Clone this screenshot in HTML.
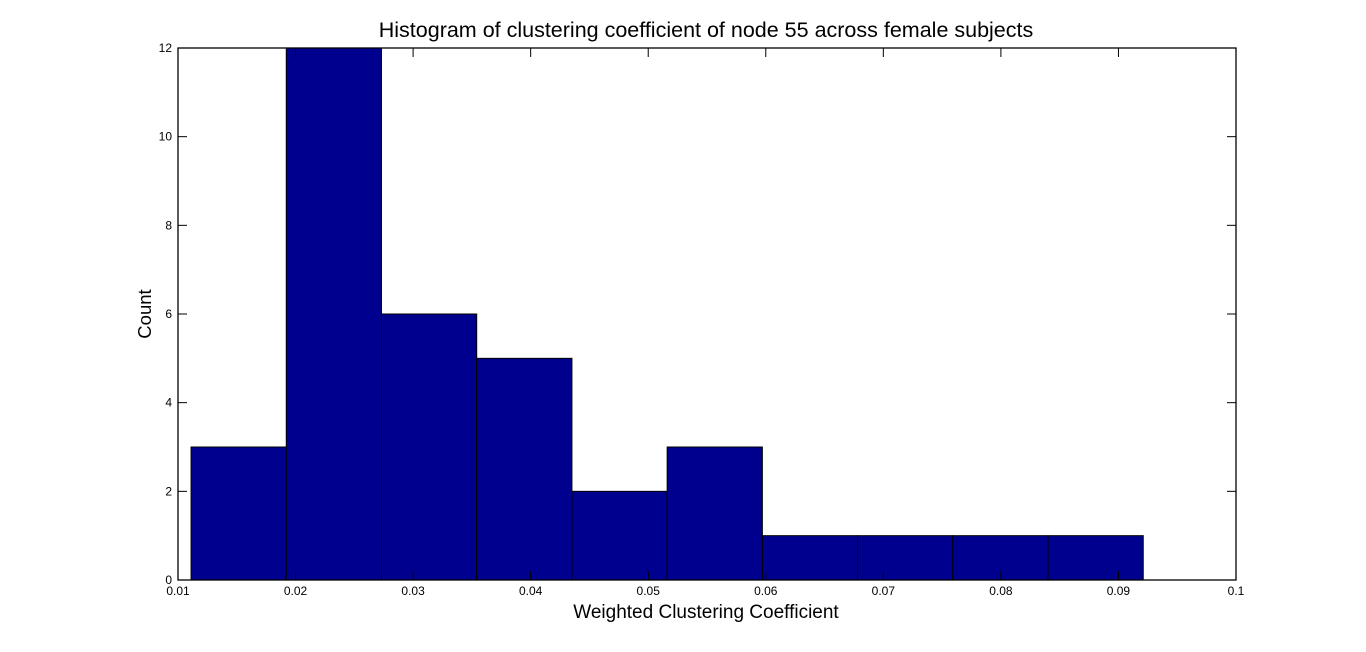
<!DOCTYPE html>
<html><head><meta charset="utf-8">
<style>
html,body{margin:0;padding:0;background:#fff;}
svg{display:block;font-family:"Liberation Sans",Arial,sans-serif;}
</style></head>
<body>
<svg id="chart" width="1366" height="652">
  <rect x="0" y="0" width="1366" height="652" fill="#fff"/>
  <text x="706" y="37" font-size="21.5" text-anchor="middle">Histogram of clustering coefficient of node 55 across female subjects</text>
  <text x="706" y="618" font-size="19" text-anchor="middle">Weighted Clustering Coefficient</text>
  <text x="0" y="0" font-size="18.5" text-anchor="middle" transform="translate(151,314) rotate(-90)">Count</text>
  <g id="bars"></g>
  <g id="axes"></g>
</svg>
<script>
const binEdges = [0.01111, 0.01921, 0.02731, 0.03541, 0.04351, 0.05161, 0.05971, 0.06781, 0.07591, 0.08401, 0.09211];
const counts = [3, 12, 6, 5, 2, 3, 1, 1, 1, 1];
const xTicks = [0.01, 0.02, 0.03, 0.04, 0.05, 0.06, 0.07, 0.08, 0.09, 0.1];
const xTickLabels = ["0.01","0.02","0.03","0.04","0.05","0.06","0.07","0.08","0.09","0.1"];
const yTicks = [0, 2, 4, 6, 8, 10, 12];

const L = 178, R = 1236, T = 48, B = 580;
const xMin = 0.01, xMax = 0.1, yMin = 0, yMax = 12;
const xs = v => L + (v - xMin) / (xMax - xMin) * (R - L);
const ys = v => B - (v - yMin) / (yMax - yMin) * (B - T);
const NS = "http://www.w3.org/2000/svg";
const bars = document.getElementById('bars');
const axes = document.getElementById('axes');

counts.forEach((c, i) => {
  const r = document.createElementNS(NS, 'rect');
  const x0 = xs(binEdges[i]), x1 = xs(binEdges[i+1]);
  r.setAttribute('x', x0);
  r.setAttribute('y', ys(c));
  r.setAttribute('width', x1 - x0);
  r.setAttribute('height', ys(0) - ys(c));
  r.setAttribute('fill', '#00008f');
  r.setAttribute('stroke', '#000');
  r.setAttribute('stroke-width', '1');
  
  
  bars.appendChild(r);
});

const box = document.createElementNS(NS, 'rect');
box.setAttribute('x', L); box.setAttribute('y', T);
box.setAttribute('width', R - L); box.setAttribute('height', B - T);
box.setAttribute('fill', 'none'); box.setAttribute('stroke', '#000'); box.setAttribute('stroke-width', '1.3');


axes.appendChild(box);

function line(x1, y1, x2, y2, name) {
  const l = document.createElementNS(NS, 'line');
  l.setAttribute('x1', x1); l.setAttribute('y1', y1);
  l.setAttribute('x2', x2); l.setAttribute('y2', y2);
  l.setAttribute('stroke', '#000'); l.setAttribute('stroke-width', '1');
  
  
  axes.appendChild(l);
}
function text(x, y, s, anchor, name) {
  const t = document.createElementNS(NS, 'text');
  t.setAttribute('x', x); t.setAttribute('y', y);
  t.setAttribute('font-size', '12'); t.setAttribute('text-anchor', anchor);
  t.textContent = s;
  
  
  axes.appendChild(t);
}
xTicks.forEach((v, i) => {
  const x = xs(v);
  line(x, B, x, B - 9, 'x-tick');
  line(x, T, x, T + 9, 'x-tick-top');
  text(x, B + 15, xTickLabels[i], 'middle', 'x-tick-label');
});
yTicks.forEach(v => {
  const y = ys(v);
  line(L, y, L + 9, y, 'y-tick');
  line(R, y, R - 9, y, 'y-tick-right');
  text(L - 6, y + 4, String(v), 'end', 'y-tick-label');
});
</script>
</body></html>
